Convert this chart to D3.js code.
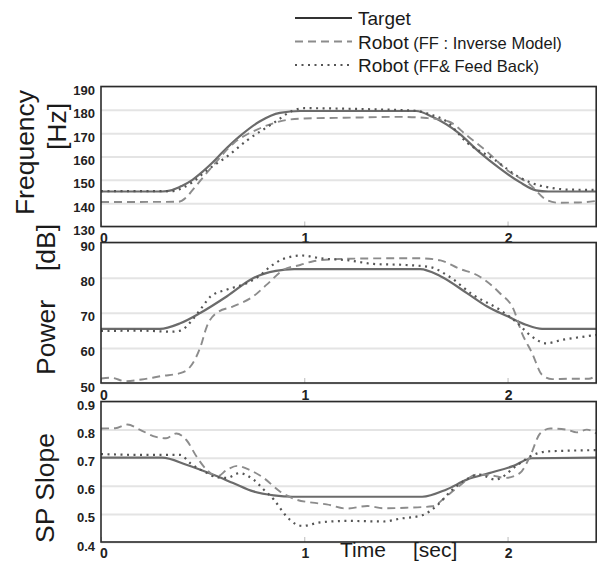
<!DOCTYPE html>
<html lang="en">
<head>
<meta charset="UTF-8">
<title>Target vs Robot</title>
<script src="https://d3js.org/d3.v7.min.js"></script>
<style>
  body { margin: 0; background: #fff; }
  svg { display: block; }
  svg text { font-family: "Liberation Sans", Arial, Helvetica, sans-serif; }
</style>
</head>
<body>
<svg id="chart" width="598" height="562"></svg>
<script>
  // axis ticks
  const timeTicks = [0, 1, 2];
  const freqTicks = [130, 140, 150, 160, 170, 180, 190];
  const powerTicks = [50, 60, 70, 80, 90];
  const slopeTicks = [0.4, 0.5, 0.6, 0.7, 0.8, 0.9];

  // legend
  const legendNames = ["Target", "Robot", "Robot"];
  const legendNotes = ["", "(FF : Inverse Model)", "(FF& Feed Back)"];

  // Frequency [Hz], [time, value]
  const freqTarget = [[0,145],[0.30,145],[0.35,145.6],[0.40,147.5],[0.45,150],[0.50,153.5],[0.55,157.5],[0.60,162],[0.68,168.5],[0.78,175],[0.88,178.7],[0.98,179.5],[1.55,179.5],[1.63,177],[1.76,170],[1.86,162],[1.96,155],[2.06,149],[2.14,145.5],[2.20,145],[2.44,145]];
  const freqInverse = [[0,140.5],[0.38,140.6],[0.42,142.5],[0.45,145.6],[0.55,156],[0.65,165.5],[0.78,172],[0.91,175.6],[1.0,176.3],[1.2,176.6],[1.47,177],[1.6,176.5],[1.71,175],[1.8,169],[1.9,162],[2.0,154],[2.11,148],[2.19,141.5],[2.25,140.2],[2.35,140.3],[2.44,141]];
  const freqFeedback = [[0,145.2],[0.35,145.2],[0.40,146.5],[0.45,149],[0.52,154],[0.62,160],[0.72,167],[0.85,174.4],[0.94,179.5],[1.0,180.7],[1.3,180.3],[1.55,179.6],[1.62,178],[1.70,175],[1.8,166],[1.93,159],[2.06,151],[2.12,148.6],[2.22,146.5],[2.3,145.8],[2.44,145.7]];

  // Power [dB]
  const powerTarget = [[0,65.4],[0.29,65.4],[0.39,67],[0.49,70],[0.62,74.7],[0.75,79.9],[0.86,81.9],[0.95,82.4],[1.57,82.4],[1.67,80.4],[1.8,75.6],[1.9,71.8],[2.0,69],[2.09,66.6],[2.17,65.4],[2.44,65.4]];
  const powerInverse = [[0,51.3],[0.05,51.5],[0.12,50.5],[0.2,51],[0.3,52],[0.39,52.8],[0.44,54.7],[0.49,60.4],[0.52,66],[0.57,70],[0.65,71.8],[0.75,74.7],[0.815,78],[0.9,82.3],[0.98,83.6],[1.04,84.6],[1.17,85.3],[1.42,85.5],[1.57,85.5],[1.67,84.9],[1.76,82.6],[1.86,80.4],[1.96,75.7],[2.03,70.9],[2.07,64.3],[2.12,58.6],[2.17,52.3],[2.22,51.1],[2.3,51.2],[2.4,51.2],[2.44,52.5]];
  const powerFeedback = [[0,64.8],[0.2,64.9],[0.35,64.6],[0.39,64.9],[0.45,68],[0.5,71.8],[0.54,74.7],[0.62,76.6],[0.72,78.5],[0.78,80.5],[0.83,83],[0.9,85.4],[0.99,86.3],[1.08,85.5],[1.22,84.9],[1.34,83.9],[1.5,83.6],[1.62,83],[1.71,80.4],[1.83,75.1],[1.96,70.9],[2.04,67.5],[2.12,63.2],[2.19,61.3],[2.27,62.3],[2.35,63],[2.44,63.7]];

  // SP Slope
  const slopeTarget = [[0,0.70],[0.3,0.70],[0.42,0.675],[0.55,0.64],[0.65,0.61],[0.75,0.58],[0.85,0.566],[0.94,0.561],[1.58,0.561],[1.7,0.587],[1.8,0.622],[1.91,0.645],[2.03,0.671],[2.12,0.698],[2.44,0.70]];
  const slopeInverse = [[0,0.804],[0.07,0.805],[0.13,0.818],[0.19,0.80],[0.27,0.774],[0.32,0.769],[0.37,0.786],[0.42,0.763],[0.47,0.704],[0.52,0.657],[0.57,0.633],[0.62,0.657],[0.67,0.671],[0.72,0.66],[0.8,0.628],[0.88,0.58],[0.96,0.551],[1.04,0.54],[1.11,0.534],[1.21,0.519],[1.31,0.528],[1.39,0.52],[1.5,0.522],[1.63,0.527],[1.7,0.563],[1.76,0.598],[1.85,0.64],[1.93,0.636],[1.99,0.628],[2.06,0.645],[2.11,0.704],[2.16,0.786],[2.21,0.804],[2.29,0.80],[2.34,0.79],[2.39,0.80],[2.44,0.785]];
  const slopeFeedback = [[0,0.713],[0.19,0.71],[0.39,0.71],[0.44,0.68],[0.52,0.646],[0.57,0.63],[0.62,0.628],[0.68,0.645],[0.75,0.622],[0.8,0.587],[0.85,0.551],[0.91,0.493],[0.96,0.463],[0.99,0.457],[1.08,0.47],[1.22,0.475],[1.39,0.473],[1.47,0.483],[1.58,0.495],[1.65,0.528],[1.73,0.587],[1.8,0.624],[1.86,0.64],[1.94,0.622],[2.04,0.669],[2.11,0.704],[2.19,0.722],[2.3,0.725],[2.44,0.727]];

  // line styles: target, FF inverse, FF & feedback
  const styles = [
    { color: "#6b6b6b", width: 2.2, dash: null },
    { color: "#8c8c8c", width: 1.9, dash: "8,5" },
    { color: "#555", width: 2.2, dash: "2,4.5" }
  ];
  const FONT = '"Liberation Sans", Arial, Helvetica, sans-serif';

  const svg = d3.select("#chart");
  const x = d3.scaleLinear().domain([0, 2.44]).range([101, 597]);

  const panels = [
    { id: "freq", domain: [130, 190], range: [226.5, 86.5], ticks: freqTicks, fmt: d3.format("d"), series: [freqTarget, freqInverse, freqFeedback], labelPad: 6.5 },
    { id: "power", domain: [50, 90], range: [383, 242.5], ticks: powerTicks, fmt: d3.format("d"), series: [powerTarget, powerInverse, powerFeedback], labelPad: 7.5 },
    { id: "slope", domain: [0.4, 0.9], range: [542, 401.5], ticks: slopeTicks, fmt: d3.format(".1f"), series: [slopeTarget, slopeInverse, slopeFeedback], labelPad: 6 }
  ];

  panels.forEach((p) => {
    const y = d3.scaleLinear().domain(p.domain).range(p.range);
    const g = svg.append("g");
    const top = p.range[1], bottom = p.range[0];

    g.append("clipPath").attr("id", "clip-" + p.id)
      .append("rect")
      .attr("x", x.range()[0]).attr("y", top)
      .attr("width", x.range()[1] - x.range()[0]).attr("height", bottom - top);

    // horizontal grid + y labels
    const yAxis = g.append("g")
      .attr("transform", `translate(${x.range()[0]},0)`)
      .call(d3.axisLeft(y).tickValues(p.ticks).tickFormat(p.fmt)
        .tickSize(-(x.range()[1] - x.range()[0])).tickPadding(6));
    yAxis.attr("font-family", FONT);
    yAxis.select(".domain").remove();
    yAxis.selectAll("line").attr("stroke", "#e4e4e4").attr("stroke-width", 2);
    yAxis.selectAll("text")
      .attr("dy", "0.62em")
      .attr("font-size", 13).attr("font-weight", "bold").attr("fill", "#222");

    // x ticks and labels
    const xAxis = g.append("g")
      .attr("transform", `translate(0,${bottom})`)
      .call(d3.axisBottom(x).tickValues(timeTicks).tickFormat(d3.format("d"))
        .tickSize(-5).tickPadding(p.labelPad));
    xAxis.attr("font-family", FONT);
    xAxis.select(".domain").remove();
    xAxis.selectAll("line").attr("stroke", "#bbb").attr("stroke-width", 1);
    xAxis.selectAll("text")
      .attr("dx", (d) => d === 0 ? 2.5 : 0.5)
      .attr("font-size", 14).attr("font-weight", "bold").attr("fill", "#222");

    // series lines
    const line = d3.line()
      .x((d) => x(d[0]))
      .y((d) => y(d[1]))
      .curve(d3.curveMonotoneX);

    g.append("g").attr("clip-path", `url(#clip-${p.id})`)
      .selectAll("path")
      .data(p.series)
      .join("path")
      .attr("d", line)
      .attr("fill", "none")
      .attr("stroke", (d, i) => styles[i].color)
      .attr("stroke-width", (d, i) => styles[i].width)
      .attr("stroke-dasharray", (d, i) => styles[i].dash);

    // frame
    g.append("rect")
      .attr("x", x.range()[0]).attr("y", top)
      .attr("width", x.range()[1] - x.range()[0] - 0.8).attr("height", bottom - top)
      .attr("fill", "none").attr("stroke", "#2b2b2b").attr("stroke-width", 1.6);
  });

  // y titles
  const titles = svg.append("g").attr("font-family", FONT).attr("font-size", 26.5).attr("fill", "#1a1a1a");
  const vText = (label, tx, ty, anchor) => titles.append("text")
    .attr("transform", `translate(${tx},${ty}) rotate(-90)`)
    .attr("text-anchor", anchor)
    .text(label);
  vText("Frequency", 34, 152.5, "middle");
  vText("[Hz]", 66, 126.5, "middle");
  vText("Power", 55, 375, "start");
  vText("[dB]", 55, 224, "end");
  vText("SP Slope", 54, 488, "middle");

  // x title
  titles.append("text").attr("x", 340).attr("y", 557).attr("font-size", 21).text("Time");
  titles.append("text").attr("x", 413).attr("y", 557).attr("font-size", 21).text("[sec]");

  // legend
  const legend = svg.append("g").attr("font-family", FONT);
  const legendY = [25, 48.5, 72];
  legendNames.forEach((name, i) => {
    legend.append("line")
      .attr("x1", 295).attr("x2", 352)
      .attr("y1", legendY[i] - 7).attr("y2", legendY[i] - 7)
      .attr("stroke", i === 0 ? "#333" : styles[i].color)
      .attr("stroke-width", styles[i].width)
      .attr("stroke-dasharray", styles[i].dash);
    const t = legend.append("text")
      .attr("x", 358).attr("y", legendY[i])
      .attr("font-size", 19).attr("fill", "#1a1a1a")
      .text(name);
    if (legendNotes[i]) {
      t.append("tspan").attr("font-size", 16.5).text(" " + legendNotes[i]);
    }
  });
</script>
</body>
</html>
